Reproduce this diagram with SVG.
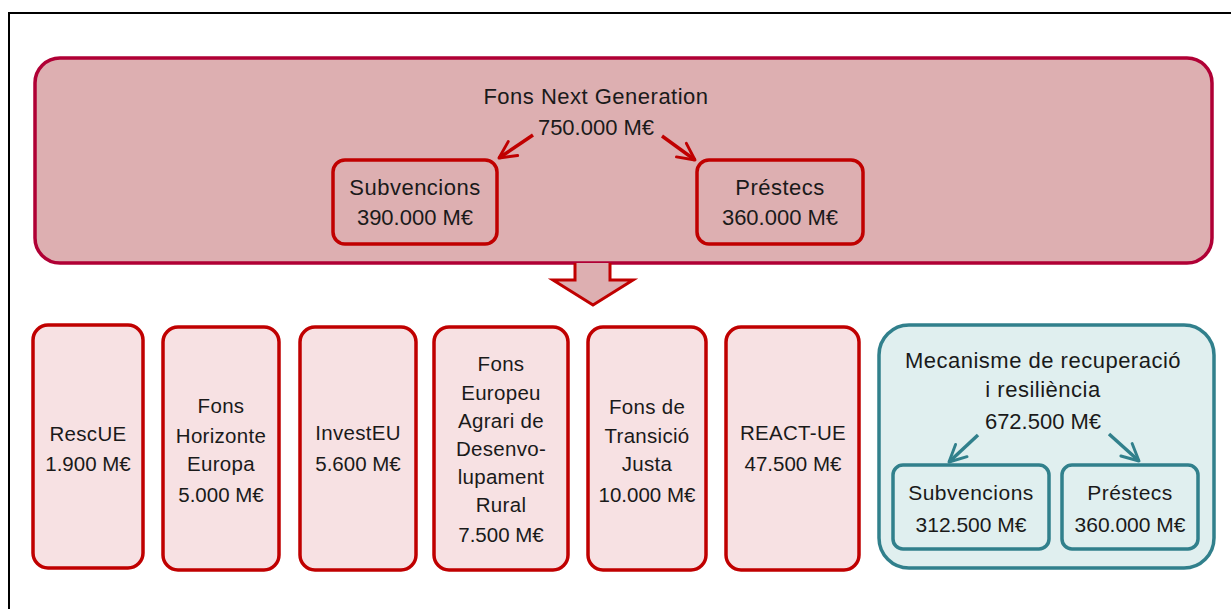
<svg xmlns="http://www.w3.org/2000/svg" width="1231" height="609" viewBox="0 0 1231 609">
<defs>
<style>
text{font-family:"Liberation Sans",Arial,sans-serif;font-size:22px;fill:#1a1a1a;text-anchor:middle}
.w{letter-spacing:0.5px}
.s{font-size:20.5px}
.s.w{letter-spacing:0.3px}
.m{font-size:21px}
.big{fill:#ddafb1;stroke:#b00035;stroke-width:3.5}
.rb{fill:#ddafb1;stroke:#c00000;stroke-width:3.5}
.pb{fill:#f7e1e3;stroke:#c00000;stroke-width:3.5}
.gb{fill:#e0efef;stroke:#31808c;stroke-width:3.5}
.ra{fill:none;stroke:#c00000;stroke-width:3.5;marker-end:url(#mr)}
.ga{fill:none;stroke:#31808c;stroke-width:3.5;marker-end:url(#mg)}
</style>
<marker id="mr" viewBox="0 0 10 10" refX="9" refY="5" markerWidth="6" markerHeight="6" orient="auto" markerUnits="strokeWidth">
<path d="M1,1 L9,5 L1,9" fill="none" stroke="#c00000" stroke-width="1.4" stroke-linecap="round" stroke-linejoin="round"/>
</marker>
<marker id="mg" viewBox="0 0 10 10" refX="9" refY="5" markerWidth="6" markerHeight="6" orient="auto" markerUnits="strokeWidth">
<path d="M1,1 L9,5 L1,9" fill="none" stroke="#31808c" stroke-width="1.4" stroke-linecap="round" stroke-linejoin="round"/>
</marker>
</defs>
<rect x="0" y="0" width="1231" height="609" fill="#fff"/>
<rect x="9" y="13" width="1240" height="620" fill="none" stroke="#000" stroke-width="2"/>

<g id="next-generation">
<rect class="big" x="35" y="58" width="1177" height="205" rx="25"/>
<text x="596" y="104" class="w">Fons Next Generation</text>
<text x="596" y="135">750.000 M€</text>
</g>
<g id="subvencions-ng">
<rect class="rb" x="333" y="160" width="164" height="84" rx="12"/>
<text x="415" y="195" class="w">Subvencions</text>
<text x="415" y="225">390.000 M€</text>
</g>
<g id="prestecs-ng">
<rect class="rb" x="697" y="160" width="166" height="84" rx="12"/>
<text x="780" y="195" class="w">Préstecs</text>
<text x="780" y="225">360.000 M€</text>
</g>

<g id="rescue">
<rect class="pb" x="33" y="325" width="110" height="243" rx="15"/>
<text x="88" y="441" class="s w">RescUE</text>
<text x="88" y="471" class="s">1.900 M€</text>
</g>
<g id="horizonte">
<rect class="pb" x="163" y="327" width="116" height="243" rx="15"/>
<text x="221" y="413" class="s w">Fons</text>
<text x="221" y="443" class="s w">Horizonte</text>
<text x="221" y="471" class="s w">Europa</text>
<text x="221" y="502" class="s">5.000 M€</text>
</g>
<g id="investeu">
<rect class="pb" x="300" y="327" width="116" height="243" rx="15"/>
<text x="358" y="440" class="s w">InvestEU</text>
<text x="358" y="471" class="s">5.600 M€</text>
</g>
<g id="feader">
<rect class="pb" x="434" y="327" width="134" height="243" rx="15"/>
<text x="501" y="371" class="s w">Fons</text>
<text x="501" y="400" class="s w">Europeu</text>
<text x="501" y="428" class="s w">Agrari de</text>
<text x="501" y="456" class="s w">Desenvo-</text>
<text x="501" y="484" class="s w">lupament</text>
<text x="501" y="512" class="s w">Rural</text>
<text x="501" y="542" class="s">7.500 M€</text>
</g>
<g id="transicio">
<rect class="pb" x="588" y="327" width="118" height="243" rx="15"/>
<text x="647" y="414" class="s w">Fons de</text>
<text x="647" y="443" class="s w">Transició</text>
<text x="647" y="471" class="s w">Justa</text>
<text x="647" y="502" class="s">10.000 M€</text>
</g>
<g id="react">
<rect class="pb" x="726" y="327" width="133" height="243" rx="15"/>
<text x="793" y="440" class="s w">REACT-UE</text>
<text x="793" y="471" class="s">47.500 M€</text>
</g>

<g id="mrr">
<rect class="gb" x="879" y="325" width="335" height="243" rx="30"/>
<text x="1043" y="368" class="w">Mecanisme de recuperació</text>
<text x="1043" y="397" class="w">i resiliència</text>
<text x="1043" y="429">672.500 M€</text>
</g>
<g id="subvencions-mrr">
<rect class="gb" x="893" y="465" width="156" height="84" rx="10"/>
<text x="971" y="500" class="m w">Subvencions</text>
<text x="971" y="532" class="m">312.500 M€</text>
</g>
<g id="prestecs-mrr">
<rect class="gb" x="1062" y="465" width="136" height="84" rx="10"/>
<text x="1130" y="500" class="m w">Préstecs</text>
<text x="1130" y="532" class="m">360.000 M€</text>
</g>

<g id="connectors">
<line class="ra" x1="533" y1="135" x2="499" y2="158"/>
<line class="ra" x1="662" y1="136" x2="695" y2="160"/>
<path d="M575,263 L575,280 L553,280 L593,305 L633,280 L610,280 L610,263" fill="#ddafb1" stroke="#c00000" stroke-width="3" stroke-linejoin="miter"/>
<line class="ga" x1="978" y1="435" x2="949" y2="462"/>
<line class="ga" x1="1109" y1="434" x2="1139" y2="461"/>
</g>
</svg>
